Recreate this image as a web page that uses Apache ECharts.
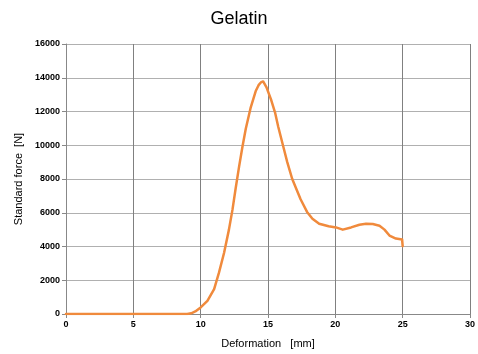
<!DOCTYPE html>
<html><head><meta charset="utf-8">
<script src="https://cdn.jsdelivr.net/npm/echarts@6/dist/echarts.min.js"></script>
<style>html,body{margin:0;padding:0;background:#fff}#c{width:478px;height:354px}</style>
</head><body><div id="c"></div>
<script>
var deformation = [0, 2, 4, 6, 8, 9, 9.3, 9.6, 10, 10.5, 11, 11.36, 11.74, 12.1, 12.36, 12.6, 12.85, 13.1, 13.35, 13.72, 14.1, 14.3, 14.47, 14.64, 14.89, 15.25, 15.52, 15.76, 16.11, 16.43, 16.8, 17.42, 17.9, 18.3, 18.8, 19.5, 20.05, 20.55, 21.17, 21.79, 22.28, 22.78, 23.28, 23.65, 24.02, 24.5, 24.96, 25.0];
var force = [0, 0, 0, 0, 0, 0, 40, 150, 390, 780, 1470, 2450, 3630, 5000, 6170, 7450, 8720, 9900, 10980, 12250, 13230, 13560, 13720, 13780, 13430, 12650, 11950, 11100, 10000, 9000, 8000, 6800, 6050, 5650, 5350, 5200, 5130, 5000, 5130, 5290, 5350, 5330, 5230, 5000, 4650, 4470, 4410, 4020];
var xTicks = [0, 5, 10, 15, 20, 25, 30];
var yTicks = [0, 2000, 4000, 6000, 8000, 10000, 12000, 14000, 16000];

var pts = deformation.map(function(x, i){ return [x, force[i]]; });
var chart = echarts.init(document.getElementById('c'), null, {renderer:'canvas'});
var font = 'Liberation Sans, Arial, sans-serif';
chart.setOption({
  animation:false,
  title:{text:'Gelatin', left:'center', top:5, textStyle:{fontFamily:font, fontSize:18, fontWeight:'normal', color:'#000'}},
  grid:{left:66, right:8, top:44, bottom:39},
  xAxis:{type:'value', min:xTicks[0], max:xTicks[xTicks.length-1], interval:5,
    name:'Deformation   [mm]', nameLocation:'middle', nameGap:24,
    nameTextStyle:{fontFamily:font, fontSize:11, color:'#000'},
    axisLine:{show:true, onZero:false, lineStyle:{color:'#888', width:1}},
    axisTick:{show:true, length:4, lineStyle:{color:'#888'}},
    axisLabel:{fontFamily:font, fontSize:9, fontWeight:'bold', color:'#000', margin:6, formatter:function(v){return String(v);}},
    splitLine:{show:true, lineStyle:{color:'#808080', width:1}}},
  yAxis:{type:'value', min:yTicks[0], max:yTicks[yTicks.length-1], interval:2000,
    name:'Standard force  [N]', nameLocation:'middle', nameGap:40,
    nameTextStyle:{fontFamily:font, fontSize:11, color:'#000'},
    axisLine:{show:true, lineStyle:{color:'#888', width:1}},
    axisTick:{show:true, length:4, lineStyle:{color:'#888'}},
    axisLabel:{fontFamily:font, fontSize:9, fontWeight:'bold', color:'#000', margin:6, formatter:function(v){return String(v);}},
    splitLine:{show:true, lineStyle:{color:'#b0b0b0', width:1}}},
  series:[{type:'line', data:pts, showSymbol:false, smooth:false,
    lineStyle:{color:'#F08A3C', width:2.5, join:'round', cap:'round'}}]
});
</script></body></html>
